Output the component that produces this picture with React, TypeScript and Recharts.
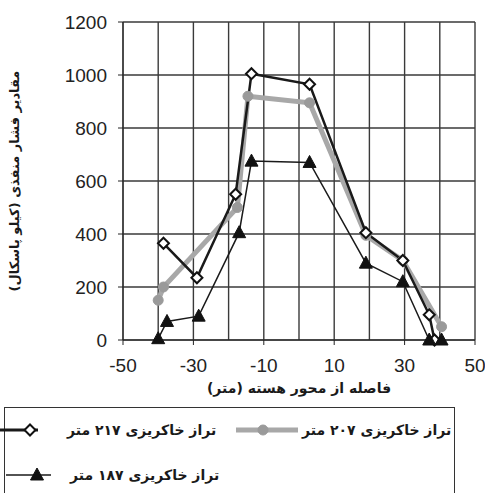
import React from 'react';
import { LineChart, Line, XAxis, YAxis, CartesianGrid, Label } from 'recharts';

// distance from core axis (m) and pore pressure (kPa)
const dist217 = [-38.5, -29, -18, -13.5, 3, 19, 29.5, 37, 38.5];
const pres217 = [365, 235, 550, 1005, 965, 405, 300, 95, 0];

const dist207 = [-40, -38.5, -17.5, -14.5, 3, 19, 29.5, 40.5];
const pres207 = [150, 200, 500, 920, 895, 395, 300, 50];

const dist187 = [-40, -37.5, -28.5, -17, -13.5, 3, 19, 29.5, 37, 40.5];
const pres187 = [5, 70, 90, 405, 675, 670, 290, 220, 0, 0];

const xTicks = [-50, -30, -10, 10, 30, 50];
const xGrid = [-50, -40, -30, -20, -10, 0, 10, 20, 30, 40, 50];
const yTicks = [0, 200, 400, 600, 800, 1000, 1200];

const label217 = 'تراز خاکریزی ۲۱۷ متر';
const label207 = 'تراز خاکریزی ۲۰۷ متر';
const label187 = 'تراز خاکریزی ۱۸۷ متر';
const xTitle = 'فاصله از محور هسته (متر)';
const yTitle = 'مقادیر فشار منفذی (کیلو پاسکال)';

const toPoints = (xs: number[], ys: number[]) => xs.map((x, i) => ({ x, y: ys[i] }));

const data217 = toPoints(dist217, pres217);
const data207 = toPoints(dist207, pres207);
const data187 = toPoints(dist187, pres187);

const persianFont = '"DejaVu Sans", "Noto Sans", sans-serif';

const Diamond = (props: any) => {
  const { cx, cy, index } = props;
  if (cx == null || cy == null) return <g key={`dm-${index}`} />;
  const s = 5.5;
  return (
    <path
      key={`dm-${index}`}
      d={`M${cx},${cy - s} L${cx + s},${cy} L${cx},${cy + s} L${cx - s},${cy} Z`}
      fill="#fff"
      stroke="#111"
      strokeWidth={2}
    />
  );
};

const Triangle = (props: any) => {
  const { cx, cy, index } = props;
  if (cx == null || cy == null) return <g key={`tr-${index}`} />;
  return (
    <path
      key={`tr-${index}`}
      d={`M${cx},${cy - 7} L${cx + 6.5},${cy + 5} L${cx - 6.5},${cy + 5} Z`}
      fill="#111"
      stroke="#111"
      strokeWidth={1}
    />
  );
};

const GrayDot = (props: any) => {
  const { cx, cy, index } = props;
  if (cx == null || cy == null) return <g key={`gd-${index}`} />;
  return <circle key={`gd-${index}`} cx={cx} cy={cy} r={5} fill="#9a9a9a" stroke="#9a9a9a" />;
};

const legendText: React.CSSProperties = {
  position: 'absolute',
  fontFamily: persianFont,
  fontSize: 14,
  fontWeight: 'bold',
  color: '#1a1a1a',
  whiteSpace: 'nowrap',
  lineHeight: '18px',
};

const App: React.FC = () => {
  return (
    <div
      style={{
        position: 'absolute',
        left: 0,
        top: 0,
        width: 485,
        height: 493,
        overflow: 'hidden',
        background: '#fff',
      }}
    >
      <LineChart width={485} height={400} margin={{ top: 22, right: 10, left: 0, bottom: 0 }}>
        <CartesianGrid
          stroke="#3a3a3a"
          strokeWidth={1.4}
          verticalValues={xGrid}
          horizontalValues={yTicks}
        />
        <XAxis
          type="number"
          dataKey="x"
          domain={[-50, 50]}
          ticks={xTicks}
          allowDataOverflow
          height={60}
          stroke="#222"
          tickSize={5}
          tickMargin={14}
          tick={{ fontSize: 19, fill: '#222', fontFamily: '"Liberation Sans", Arial, sans-serif' }}
        >
          <Label
            value={xTitle}
            position="insideBottom"
            offset={7}
            style={{ fontFamily: persianFont, fontSize: 14, fontWeight: 'bold', fill: '#1a1a1a' }}
          />
        </XAxis>
        <YAxis
          type="number"
          domain={[0, 1200]}
          ticks={yTicks}
          width={123}
          stroke="#222"
          tickSize={5}
          tickMargin={11}
          tick={{ fontSize: 19, fill: '#222', fontFamily: '"Liberation Sans", Arial, sans-serif' }}
        >
          <Label
            value={yTitle}
            angle={-90}
            position="insideLeft"
            offset={14}
            style={{
              fontFamily: persianFont,
              fontSize: 13,
              fontWeight: 'bold',
              fill: '#1a1a1a',
              textAnchor: 'middle',
            }}
          />
        </YAxis>
        <Line
          data={data207}
          dataKey="y"
          type="linear"
          stroke="#a8a8a8"
          strokeWidth={5}
          dot={GrayDot}
          activeDot={false}
          isAnimationActive={false}
        />
        <Line
          data={data217}
          dataKey="y"
          type="linear"
          stroke="#1a1a1a"
          strokeWidth={2.5}
          dot={Diamond}
          activeDot={false}
          isAnimationActive={false}
        />
        <Line
          data={data187}
          dataKey="y"
          type="linear"
          stroke="#1a1a1a"
          strokeWidth={1.5}
          dot={Triangle}
          activeDot={false}
          isAnimationActive={false}
        />
      </LineChart>

      {/* legend box */}
      <div
        style={{
          position: 'absolute',
          left: 4,
          top: 407,
          width: 451,
          height: 110,
          border: '1.5px solid #333',
          boxSizing: 'border-box',
        }}
      />
      <svg style={{ position: 'absolute', left: 0, top: 420 }} width={40} height={20}>
        <line x1={0} y1={10} x2={38} y2={10} stroke="#1a1a1a" strokeWidth={3} />
        <Diamond cx={30} cy={10} index={0} />
      </svg>
      <div style={{ ...legendText, left: 67, top: 421 }} dir="rtl">{label217}</div>
      <svg style={{ position: 'absolute', left: 236, top: 420 }} width={64} height={20}>
        <line x1={0} y1={10} x2={62} y2={10} stroke="#a8a8a8" strokeWidth={5} />
        <GrayDot cx={27} cy={10} index={0} />
      </svg>
      <div style={{ ...legendText, left: 302, top: 421 }} dir="rtl">{label207}</div>
      <svg style={{ position: 'absolute', left: 6, top: 465 }} width={48} height={20}>
        <line x1={0} y1={10} x2={45} y2={10} stroke="#1a1a1a" strokeWidth={1.5} />
        <Triangle cx={31} cy={10} index={0} />
      </svg>
      <div style={{ ...legendText, left: 70, top: 466 }} dir="rtl">{label187}</div>
    </div>
  );
};

export default App;
